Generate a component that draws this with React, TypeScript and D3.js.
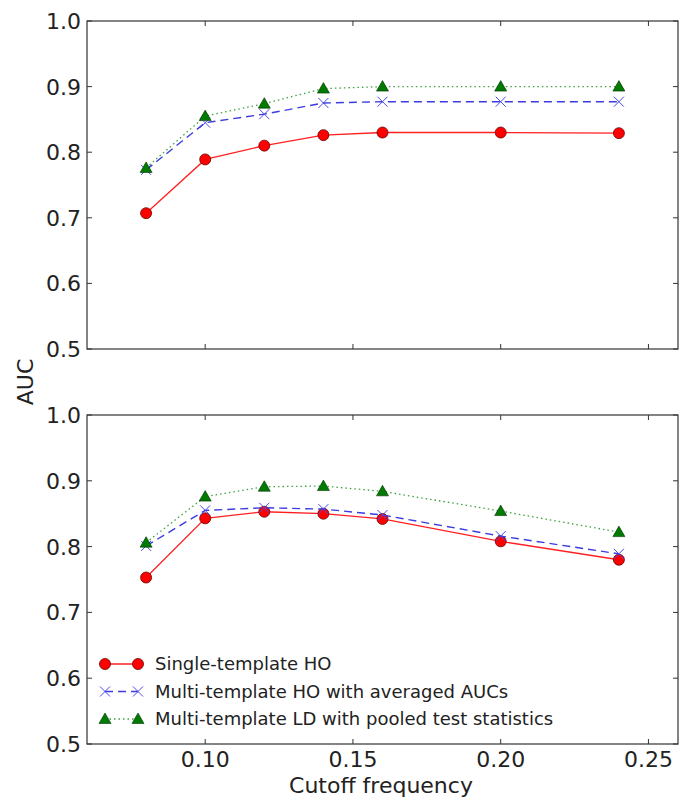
import React from "react";
import * as d3 from "d3";

const cutoffs = [0.08, 0.1, 0.12, 0.14, 0.16, 0.2, 0.24];
const topSingle = [0.707, 0.789, 0.81, 0.826, 0.83, 0.83, 0.829];
const topMultiHO = [0.773, 0.845, 0.858, 0.875, 0.877, 0.877, 0.877];
const topMultiLD = [0.776, 0.855, 0.874, 0.897, 0.9, 0.9, 0.9];
const botSingle = [0.753, 0.843, 0.853, 0.85, 0.842, 0.808, 0.78];
const botMultiHO = [0.801, 0.855, 0.859, 0.857, 0.848, 0.816, 0.789];
const botMultiLD = [0.806, 0.876, 0.891, 0.892, 0.884, 0.854, 0.822];
const yTicks = [0.5, 0.6, 0.7, 0.8, 0.9, 1.0];
const xTicks = [0.1, 0.15, 0.2, 0.25];
const seriesNames = [
  "Single-template HO",
  "Multi-template HO with averaged AUCs",
  "Multi-template LD with pooled test statistics",
];

const W = 680;
const H = 804;
const left = 87;
const right = 678;
const panels = [
  { top: 21, bottom: 349, data: [topSingle, topMultiHO, topMultiLD], xLabels: false },
  { top: 415, bottom: 744, data: [botSingle, botMultiHO, botMultiLD], xLabels: true },
];
const FONT = "DejaVu Sans, sans-serif";

const styles = [
  { color: "#ff2020", dash: "none", marker: "circle", width: 1.3 },
  { color: "#3b3be0", dash: "8,5", marker: "x", width: 1.4 },
  { color: "#40a040", dash: "1.5,3", marker: "tri", width: 1.3 },
];

function Marker({ kind, x, y }: { kind: string; x: number; y: number }) {
  if (kind === "circle")
    return <circle cx={x} cy={y} r={5.5} fill="#ff0000" stroke="#600" strokeWidth={0.8} />;
  if (kind === "x") {
    const s = 5;
    return (
      <path
        d={`M${x - s},${y - s}L${x + s},${y + s}M${x - s},${y + s}L${x + s},${y - s}`}
        stroke="#4a4ae8"
        strokeWidth={1}
        fill="none"
      />
    );
  }
  const s = 6;
  return (
    <path
      d={`M${x},${y - s}L${x + s},${y + s * 0.75}L${x - s},${y + s * 0.75}Z`}
      fill="#007a00"
      stroke="#003000"
      strokeWidth={0.6}
    />
  );
}

export default function App() {
  const x = d3.scaleLinear().domain([0.06, 0.26]).range([left, right]);
  return (
    <div style={{ position: "absolute", left: 0, top: 0 }}>
      <svg width={W} height={H} style={{ display: "block", background: "#fff" }} fontFamily={FONT}>
        {panels.map((p, pi) => {
          const y = d3.scaleLinear().domain([0.5, 1.0]).range([p.bottom, p.top]);
          return (
            <g key={pi}>
              {p.data.map((vals, si) => {
                const st = styles[si];
                const line = d3
                  .line<number>()
                  .x((_, i) => x(cutoffs[i]))
                  .y((v) => y(v));
                return (
                  <g key={si}>
                    <path
                      d={line(vals) || ""}
                      fill="none"
                      stroke={st.color}
                      strokeWidth={st.width}
                      strokeDasharray={st.dash}
                    />
                    {vals.map((v, i) => (
                      <Marker key={i} kind={st.marker} x={x(cutoffs[i])} y={y(v)} />
                    ))}
                  </g>
                );
              })}
              <rect
                x={left}
                y={p.top}
                width={right - left}
                height={p.bottom - p.top}
                fill="none"
                stroke="#333"
                strokeWidth={1.2}
              />
              {yTicks.map((t) => (
                <g key={t}>
                  <line x1={left} x2={left + 5} y1={y(t)} y2={y(t)} stroke="#333" />
                  <line x1={right - 5} x2={right} y1={y(t)} y2={y(t)} stroke="#333" />
                  <text
                    x={left - 6}
                    y={y(t)}
                    dy="0.36em"
                    textAnchor="end"
                    fontSize={22}
                    fill="#222"
                  >
                    {t.toFixed(1)}
                  </text>
                </g>
              ))}
              {xTicks.map((t) => (
                <g key={t}>
                  <line x1={x(t)} x2={x(t)} y1={p.bottom} y2={p.bottom - 5} stroke="#333" />
                  <line x1={x(t)} x2={x(t)} y1={p.top} y2={p.top + 5} stroke="#333" />
                  {p.xLabels && (
                    <text x={x(t)} y={p.bottom + 23} textAnchor="middle" fontSize={22} fill="#222">
                      {t.toFixed(2)}
                    </text>
                  )}
                </g>
              ))}
            </g>
          );
        })}
        {seriesNames.map((name, i) => {
          const st = styles[i];
          const ly = 664 + i * 27.5;
          return (
            <g key={name}>
              <line
                x1={105}
                x2={138}
                y1={ly}
                y2={ly}
                stroke={st.color}
                strokeWidth={st.width}
                strokeDasharray={st.dash}
              />
              <Marker kind={st.marker} x={105} y={ly} />
              <Marker kind={st.marker} x={138} y={ly} />
              <text x={155} y={ly} dy="0.36em" fontSize={18} fill="#222">
                {name}
              </text>
            </g>
          );
        })}
        <text x={381} y={793} textAnchor="middle" fontSize={22} fill="#222">
          Cutoff frequency
        </text>
        <text
          transform={`translate(33,382) rotate(-90)`}
          textAnchor="middle"
          fontSize={22}
          fill="#222"
        >
          AUC
        </text>
      </svg>
    </div>
  );
}
